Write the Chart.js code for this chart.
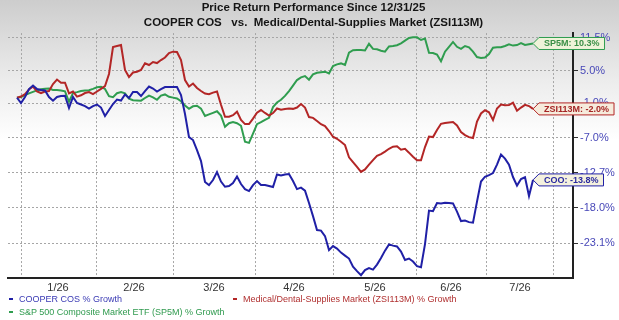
<!DOCTYPE html>
<html>
<head>
<meta charset="utf-8">
<script src="https://cdn.jsdelivr.net/npm/chart.js@4.4.1/dist/chart.umd.min.js"></script>
<style>
    html, body { margin: 0; padding: 0; }
    body {
        width: 619px; height: 320px; overflow: hidden; position: relative;
        background: linear-gradient(to bottom, #cdcdcd 0px, #ececec 80px, #ffffff 140px);
        font-family: 'Liberation Sans', Arial, sans-serif;
    }
    #wrap { position: absolute; left: 0; top: 0; width: 619px; height: 320px; }
    #legend {
        position: absolute; left: 9px; top: 293px; width: 600px;
        display: grid; grid-template-columns: 224px 1fr; row-gap: 0;
        font-size: 9px; line-height: 13px;
    }
    #legend .item { white-space: nowrap; }
    #legend .mark { display: inline-block; width: 4px; height: 2px; vertical-align: middle; margin-right: 6px; position: relative; top: -1px; }
</style>
</head>
<body>
<div id="wrap"><canvas id="perfChart" width="619" height="320"></canvas></div>
<div id="legend"></div>
<script>
    // Price return (%) since 12/31/25, one value per trading-day step
    const cooGrowth = [
        0.00, -0.95, 0.13, 1.58, 2.23, 1.58, 1.40, 1.31, 0.13, -0.54,
        0.13, 0.31, 0.36, -1.84, 0.13, -0.95, -1.22, -1.49, -1.93, -1.49,
        -1.22, -1.76, -3.25, -2.20, -1.13, -0.32, -0.50, 0.58, -0.05, 1.04,
        1.04, 0.31, 1.22, 2.04, 1.68, 1.13, 1.58, 1.95, 1.95, 1.95,
        1.95, 0.49, -2.90, -6.86, -7.36, -9.02, -10.81, -14.13, -14.60, -13.82,
        -12.57, -14.05, -14.86, -14.75, -14.29, -13.27, -14.44, -15.22, -15.52, -14.60,
        -13.98, -14.60, -14.60, -14.75, -14.91, -12.96, -13.12, -12.96, -12.88, -13.98,
        -15.22, -14.99, -15.45, -17.33, -19.26, -21.27, -21.34, -22.12, -24.07, -23.52,
        -23.86, -24.41, -24.82, -25.22, -26.30, -26.90, -27.43, -26.77, -26.50, -26.70,
        -26.03, -25.15, -24.14, -23.28, -23.45, -23.56, -24.27, -25.42, -25.22, -25.62,
        -26.23, -26.37, -23.24, -18.45, -18.53, -17.33, -17.41, -17.29, -17.33, -17.38,
        -18.60, -19.98, -19.91, -20.13, -20.21, -17.11, -14.05, -13.30, -13.04, -12.72,
        -11.38, -9.77, -10.41, -11.38, -13.35, -14.68, -13.66, -13.38, -16.28, -13.8
    ];
    const zsiGrowth = [
        0.00, 0.22, 0.67, 1.49, 2.04, 1.13, 0.85, 1.13, 1.22, 2.51,
        3.34, 2.75, 2.75, 0.80, 1.13, 0.20, 0.45, 0.85, 1.04, 0.67,
        1.13, 1.62, 2.13, 4.38, 9.60, 9.80, 10.00, 5.14, 3.81, 4.67,
        4.82, 5.14, 6.42, 6.09, 6.67, 6.47, 7.05, 7.54, 8.42, 8.68,
        8.62, 7.05, 3.25, 2.04, 2.60, 1.77, 1.22, 0.76, 0.63, 0.93,
        1.13, -1.26, -3.38, -3.38, -3.11, -2.48, -3.95, -4.65, -4.65, -3.71,
        -2.68, -2.20, -2.71, -3.17, -2.73, -1.93, -2.16, -2.02, -1.93, -1.99,
        -1.76, -1.13, -1.76, -3.43, -3.57, -4.12, -4.68, -4.99, -5.84, -6.81,
        -7.14, -7.63, -8.20, -10.20, -10.97, -11.74, -12.53, -12.14, -11.38, -10.65,
        -9.97, -9.68, -9.27, -8.81, -8.46, -8.38, -8.97, -8.82, -9.45, -10.12,
        -10.68, -10.68, -8.53, -6.77, -6.86, -5.67, -4.60, -4.47, -4.37, -4.30,
        -4.87, -6.01, -6.52, -6.87, -7.02, -4.21, -2.80, -2.24, -2.59, -3.95,
        -1.93, -1.22, -1.36, -1.31, -0.90, -2.32, -1.76, -1.27, -1.49, -2.0
    ];
    const sp5mGrowth = [
        0.00, 0.13, 0.49, 0.80, 1.07, 1.33, 1.55, 1.64, 1.66, 1.40,
        1.40, 1.31, 1.16, -0.72, 0.85, 1.02, 1.24, 1.33, 1.38, 1.62,
        1.90, 1.99, 1.60, 0.29, 0.11, 0.83, 1.04, 0.80, -0.18, -0.45,
        -0.48, -0.52, -0.05, 0.40, 0.08, -0.36, 0.38, 0.60, 0.17, 0.02,
        -0.14, -0.63, -1.40, -1.99, -1.54, -1.44, -1.95, -3.25, -2.97, -2.69,
        -2.41, -3.17, -5.11, -4.49, -4.30, -4.49, -4.94, -7.65, -7.83, -6.27,
        -4.66, -4.33, -3.93, -3.57, -1.67, -0.86, -0.37, 0.33, 1.22, 2.21,
        3.25, 3.74, 4.00, 3.31, 4.30, 4.62, 4.72, 4.82, 4.48, 5.90,
        6.22, 6.40, 6.09, 8.50, 8.97, 9.01, 9.01, 8.91, 10.24, 9.23,
        9.15, 8.87, 8.68, 9.70, 9.80, 9.96, 10.34, 10.86, 11.40, 11.54,
        11.54, 11.00, 11.30, 8.48, 8.42, 8.11, 6.82, 8.68, 9.62, 10.60,
        9.64, 9.23, 9.80, 9.52, 8.68, 7.62, 7.46, 7.54, 8.21, 9.46,
        9.54, 9.54, 9.80, 10.12, 9.88, 9.98, 10.36, 10.00, 10.16, 10.3
    ];

    // Axis ticks
    const yTickValues = [11.5, 5.0, -1.0, -7.0, -12.7, -18.0, -23.1];
    const yTickLabels = ['11.5%', '5.0%', '-1.0%', '-7.0%', '-12.7%', '-18.0%', '-23.1%'];
    const monthGridDays = [1, 19.75, 39, 59.5, 79, 99.75, 117.25, 134];
    const monthLabelDays = [10.25, 29.25, 49.25, 69.25, 89.5, 108.5, 125.75];
    const monthLabels = ['1/26', '2/26', '3/26', '4/26', '5/26', '6/26', '7/26'];

    // Series
    const seriesNames = ['COOPER COS % Growth', 'Medical/Dental-Supplies Market (ZSI113M) % Growth', 'S&P 500 Composite Market ETF (SP5M) % Growth'];
    const flagNames = ['COO', 'ZSI113M', 'SP5M'];
    const seriesData = [cooGrowth, zsiGrowth, sp5mGrowth];

    const colors = {
        line: ['#2020a6', '#b32626', '#2f9d4f'],
        text: ['#3a3ab4', '#b03030', '#2f9a4e'],
        flagFill: ['#f4f1de', '#f6ebdc', '#eef3d9'],
        flagText: ['#2a2aa0', '#a52525', '#3a8f47'],
        grid: '#a6a6a6',
        axis: '#222222'
    };
    const fontFamily = "'Liberation Sans', Arial, sans-serif";
    Chart.defaults.font.family = fontFamily;

    // growth % -> price relative, drawn on a log axis
    const toRel = v => 1 + v / 100;

    // x ticks: month boundaries carry a grid line, month midpoints carry the label
    const xTicks = monthGridDays.map(d => ({ value: d, isGrid: true }))
        .concat(monthLabelDays.map((d, i) => ({ value: d, lbl: monthLabels[i] })))
        .sort((a, b) => a.value - b.value);

    const flagPlugin = {
        id: 'endFlags',
        afterDraw(chart) {
            const ctx = chart.ctx;
            ctx.save();
            ctx.font = 'bold 9px ' + fontFamily;
            ctx.textBaseline = 'middle';
            chart.data.datasets.forEach((ds, i) => {
                const meta = chart.getDatasetMeta(i);
                const pt = meta.data[meta.data.length - 1];
                const series = seriesData[i];
                const txt = flagNames[i] + ': ' + series[series.length - 1].toFixed(1) + '%';
                const w = ctx.measureText(txt).width + 10;
                const x = pt.x, y = pt.y;
                ctx.beginPath();
                ctx.moveTo(x, y);
                ctx.lineTo(x + 6, y - 6);
                ctx.lineTo(x + 6 + w, y - 6);
                ctx.lineTo(x + 6 + w, y + 6);
                ctx.lineTo(x + 6, y + 6);
                ctx.closePath();
                ctx.fillStyle = colors.flagFill[i];
                ctx.fill();
                ctx.lineWidth = 1;
                ctx.strokeStyle = colors.line[i];
                ctx.stroke();
                ctx.fillStyle = colors.flagText[i];
                ctx.fillText(txt, x + 11, y + 0.5);
            });
            ctx.restore();
        }
    };

    new Chart(document.getElementById('perfChart'), {
        type: 'line',
        data: {
            datasets: seriesData.map((arr, i) => ({
                label: seriesNames[i],
                data: arr.map((v, k) => ({ x: k, y: toRel(v) })),
                borderColor: colors.line[i],
                borderWidth: 2,
                pointRadius: 0,
                tension: 0,
                fill: false
            }))
        },
        options: {
            responsive: false,
            animation: false,
            layout: { padding: { left: 8, right: 0, top: 0, bottom: 26 } },
            plugins: {
                legend: { display: false },
                tooltip: { enabled: false },
                title: {
                    display: true,
                    text: ['Price Return Performance Since 12/31/25', 'COOPER COS   vs.  Medical/Dental-Supplies Market (ZSI113M)'],
                    color: '#151515',
                    font: { size: 11.5, weight: 'bold', lineHeight: 1.35 },
                    padding: { top: 0, bottom: 2 }
                }
            },
            scales: {
                x: {
                    type: 'linear',
                    min: -2.25,
                    max: 139,
                    afterBuildTicks: scale => {
                        scale.ticks = xTicks.map(t => ({ value: t.value }));
                    },
                    afterFit: scale => { scale.height = 16; },
                    ticks: {
                        autoSkip: false,
                        maxRotation: 0,
                        padding: 3,
                        color: '#333',
                        font: { size: 11 },
                        callback: (v, i) => xTicks[i].lbl || ''
                    },
                    grid: {
                        drawTicks: false,
                        color: c => (xTicks[c.index] && xTicks[c.index].isGrid) ? colors.grid : 'rgba(0,0,0,0)'
                    },
                    border: { display: true, color: colors.axis, width: 2, dash: [2, 2] }
                },
                y: {
                    type: 'logarithmic',
                    position: 'right',
                    min: toRel(-27.8),
                    max: toRel(12.4),
                    afterBuildTicks: scale => {
                        scale.ticks = yTickValues.map(v => ({ value: toRel(v) }));
                    },
                    afterFit: scale => { scale.width = 46; },
                    ticks: {
                        autoSkip: false,
                        padding: 2,
                        color: '#4848b8',
                        font: { size: 11 },
                        callback: (v, i) => yTickLabels[i]
                    },
                    grid: {
                        color: colors.grid,
                        tickColor: '#333',
                        tickLength: 5,
                        tickWidth: 1,
                        tickBorderDash: []
                    },
                    border: { display: true, color: colors.axis, width: 2, dash: [2, 2] }
                }
            }
        },
        plugins: [flagPlugin]
    });

    // Legend
    const legend = document.getElementById('legend');
    seriesNames.forEach((name, i) => {
        const item = document.createElement('div');
        item.className = 'item';
        item.style.color = colors.text[i];
        const mark = document.createElement('span');
        mark.className = 'mark';
        mark.style.background = colors.line[i];
        item.appendChild(mark);
        item.appendChild(document.createTextNode(name));
        legend.appendChild(item);
    });
</script>
</body>
</html>
